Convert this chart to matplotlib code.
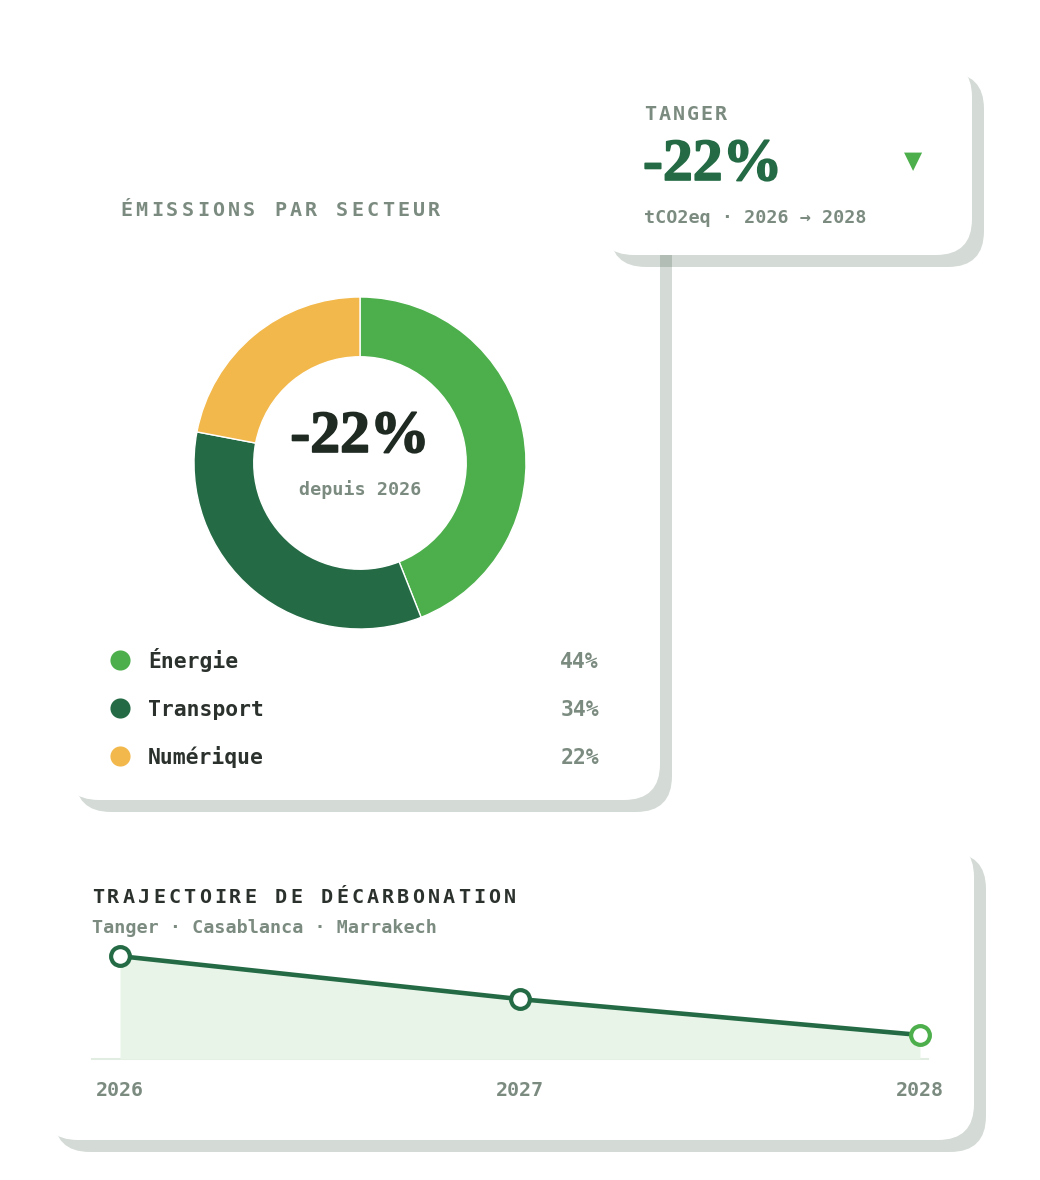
import numpy as np
import matplotlib
matplotlib.use("Agg")
import matplotlib.pyplot as plt
import matplotlib.patheffects as pe
from matplotlib.patches import FancyBboxPatch

# données
secteurs = ["Énergie", "Transport", "Numérique"]
parts = [44, 34, 22]
couleurs = ["#4caf4b", "#246b45", "#f2b84b"]

annees = [2026, 2027, 2028]
trajectoire = [100, 88, 78]
y_min, y_max = 71.3, 104.5

ville = "TANGER"
variation = "-22%"
unite = "tCO2eq · 2026 → 2028"
villes = "Tanger · Casablanca · Marrakech"

GRIS = "#7b8b80"
SOMBRE = "#2b312c"
VERT = "#246b45"
VERT_CLAIR = "#4caf4b"
MONO = "DejaVu Sans Mono"
SERIF = "Liberation Serif"

W, H = 1040, 1180
fig = plt.figure(figsize=(W / 100, H / 100), dpi=100)
fig.patch.set_facecolor("white")

# axe de fond en pixels
bg = fig.add_axes([0, 0, 1, 1])
bg.set_xlim(0, W)
bg.set_ylim(H, 0)
bg.axis("off")


def carte(x0, y0, x1, y1, z):
    r = 36
    ombre = FancyBboxPatch((x0 + 12, y0 + 12), x1 - x0, y1 - y0,
                           boxstyle=f"round,pad=0,rounding_size={r}",
                           fc="#2a4a35", ec="none", alpha=0.2, zorder=z)
    fond = FancyBboxPatch((x0, y0), x1 - x0, y1 - y0,
                          boxstyle=f"round,pad=0,rounding_size={r}",
                          fc="white", ec="none", zorder=z + 1)
    bg.add_patch(ombre)
    bg.add_patch(fond)


def espace(x, y, s, size, step, color, weight="bold"):
    adv = 0.602 * size / 0.72
    for i, ch in enumerate(s):
        bg.text(x + i * step + adv / 2, y, ch, fontsize=size, family=MONO,
                weight=weight, color=color, ha="center", va="baseline", zorder=10)


def grand(x, y, color, ha):
    bg.text(x, y, variation, fontsize=43, family=SERIF, weight="bold",
            color=color, ha=ha, va="baseline", zorder=10,
            path_effects=[pe.withStroke(linewidth=1.2, foreground=color)])


carte(63, 150, 660, 800, 1)
carte(598, 61, 972, 255, 3)
carte(42, 841, 974, 1140, 1)

# carte Tanger
espace(644, 120, ville, 14.5, 14.2, GRIS)
grand(643, 180, VERT, "left")
bg.text(913, 161, "▼", fontsize=17, family="DejaVu Sans", color=VERT_CLAIR,
        ha="center", va="center", zorder=10)
bg.text(644, 223, unite, fontsize=13.2, family=MONO, weight="bold",
        color=GRIS, ha="left", va="baseline", zorder=10)

# carte secteurs
espace(120, 216, "ÉMISSIONS PAR SECTEUR", 14.5, 15.4, GRIS)

cx, cy, r_ext = 360, 463, 166
donut = fig.add_axes([(cx - r_ext) / W, 1 - (cy + r_ext) / H, 2 * r_ext / W, 2 * r_ext / H])
donut.pie(parts, colors=couleurs, startangle=90, counterclock=False, radius=1,
          wedgeprops=dict(width=0.36, edgecolor="white", linewidth=1))
donut.set_xlim(-1, 1)
donut.set_ylim(-1, 1)
donut.set_aspect("equal")
donut.axis("off")

grand(360, 452, "#1f2a22", "center")
bg.text(360, 495, "depuis 2026", fontsize=13.2, family=MONO, weight="bold",
        color=GRIS, ha="center", va="baseline", zorder=10)

for i, (nom, p, c) in enumerate(zip(secteurs, parts, couleurs)):
    yy = 660 + i * 48
    bg.scatter([120], [yy], s=210, color=c, zorder=10, linewidths=0)
    bg.text(148, yy + 8, nom, fontsize=15.4, family=MONO, weight="bold",
            color=SOMBRE, ha="left", va="baseline", zorder=10)
    bg.text(599, yy + 8, f"{p}%", fontsize=15.4, family=MONO, weight="bold",
            color=GRIS, ha="right", va="baseline", zorder=10)

# carte trajectoire
espace(92, 903, "TRAJECTOIRE DE DÉCARBONATION", 14.5, 15.25, SOMBRE)
bg.text(92, 933, villes, fontsize=13.2, family=MONO, weight="bold",
        color=GRIS, ha="left", va="baseline", zorder=10)
bg.plot([92, 928], [1059, 1059], color="#e2ede2", lw=1.5, zorder=5)

ax = fig.add_axes([120 / W, 1 - 1059 / H, 800 / W, 119 / H])
ax.set_facecolor("none")
ax.set_xlim(annees[0], annees[-1])
ax.set_ylim(y_min, y_max)
ax.fill_between(annees, trajectoire, y_min, color="#e9f4e8", lw=0)
ax.plot(annees, trajectoire, color=VERT, lw=3.3, solid_capstyle="round", clip_on=False)
bords = [VERT] * (len(annees) - 1) + [VERT_CLAIR]
for a, v, b in zip(annees, trajectoire, bords):
    ax.plot([a], [v], "o", ms=13.5, mfc="white", mec=b, mew=3, clip_on=False, zorder=5)
for a in annees:
    ax.annotate(str(a), xy=(a, 0), xycoords=("data", "axes fraction"),
                xytext=(0, -26.6), textcoords="offset points", ha="center",
                va="baseline", fontsize=14.4, family=MONO, weight="bold", color=GRIS)
ax.axis("off")

fig.savefig("out.png", dpi=100, facecolor="white")
